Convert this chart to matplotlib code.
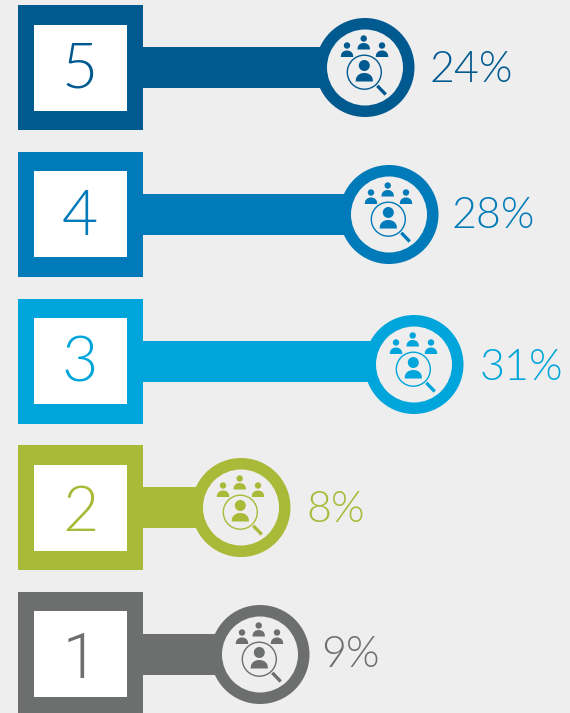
import numpy as np
import matplotlib
matplotlib.use("Agg")
import matplotlib.pyplot as plt
from matplotlib.patches import Rectangle, Circle, Polygon

ratings = ["5", "4", "3", "2", "1"]
percent_values = [24, 28, 31, 8, 9]
# bar end positions (circle centres), in pixels
bar_ends = [365, 389, 414, 241, 260]
row_tops = [5, 152, 299, 445, 592]
inner_tops = [25, 171, 318, 465, 611]
circle_y = [67.5, 214.5, 364.5, 507.5, 654.5]
digit_base = [88, 235, 382, 531, 678]
label_base = [82, 228, 380, 522, 667]
colors = ["#00598F", "#007AB8", "#00A5DB", "#A9B938", "#6D6E6E"]
label_x = [429.5, 451.5, 479.5, 306.5, 321.5]
digit_family = ["Lato", "Lato", "Lato", "Lato", "Roboto"]

BG = "#EEEEEE"
plt.rcParams["font.family"] = ["Lato", "DejaVu Sans"]

fig = plt.figure(figsize=(5.7, 7.13), dpi=100, facecolor=BG)
ax = fig.add_axes([0, 0, 1, 1])
ax.set_xlim(0, 570)
ax.set_ylim(713, 0)
ax.axis("off")


def body(ax, cx, base, w, h, color):
    t = np.linspace(0, np.pi, 40)
    pts = np.column_stack([cx + w * np.cos(t), base - h * np.sin(t) ** 0.8])
    ax.add_patch(Polygon(pts, closed=True, fc=color, ec="none", zorder=6))


def icon(ax, cx, cy, color):
    for dx, hy, bb in [(-18, -22, -10.5), (-1.3, -29, -18), (17, -22, -10.5)]:
        ax.add_patch(Circle((cx + dx, cy + hy), 3.2, fc=color, ec="none", zorder=6))
        body(ax, cx + dx, cy + bb, 6.2, 6.5, color)
    ax.add_patch(Circle((cx - 0.7, cy - 2), 5.5, fc=color, ec="none", zorder=6))
    body(ax, cx - 0.7, cy + 14, 8.6, 8.5, color)
    ax.add_patch(Circle((cx - 0.7, cy + 4.7), 17, fc="none", ec=color, lw=1.0, zorder=6))
    ax.plot([cx + 12.3, cx + 20.7], [cy + 18.3, cy + 27], color=color, lw=2.4, zorder=6,
            solid_capstyle="butt")


for i, (rating, pct, end, top, c, lx) in enumerate(zip(ratings, percent_values, bar_ends, row_tops, colors, label_x)):
    ax.add_patch(Rectangle((18, top), 125, 125, fc=c, ec="none", zorder=2))
    ax.add_patch(Rectangle((34, inner_tops[i]), 93, 86, fc="white", ec="none", zorder=3))
    ax.barh(top + 62.5, end - 143, left=143, height=41, color=c, zorder=2)
    ax.add_patch(Circle((end, circle_y[i]), 49.5, fc=c, ec="none", zorder=4))
    ax.add_patch(Circle((end, circle_y[i]), 38, fc=BG, ec="none", zorder=5))
    icon(ax, end, circle_y[i], c)
    ax.text(80, digit_base[i], rating, color=c, fontsize=45, fontweight=300,
            family=[digit_family[i], "DejaVu Sans"],
            ha="center", va="baseline", zorder=7)
    ax.text(lx, label_base[i], f"{pct}%", color=c, fontsize=31, fontweight=300,
            ha="left", va="baseline", zorder=7)

fig.savefig("out.png", dpi=100, facecolor=BG)
